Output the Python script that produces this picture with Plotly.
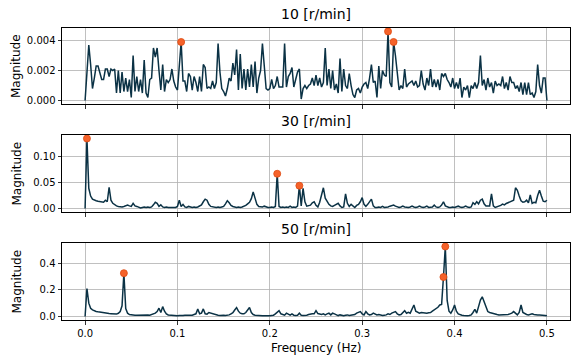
import numpy as np
import plotly.graph_objects as go

# ---------------- data ----------------
titles = ["10 [r/min]", "30 [r/min]", "50 [r/min]"]

mag_10 = [
    0.0000, 0.0018, 0.0037, 0.0024, 0.0008, 0.0015, 0.0023, 0.0023, 0.0019, 0.0014,
    0.0014, 0.0021, 0.0021, 0.0016, 0.0021, 0.0020, 0.0021, 0.0005, 0.0020, 0.0005,
    0.0019, 0.0006, 0.0015, 0.0006, 0.0014, 0.0002, 0.0030, 0.0006, 0.0016, 0.0006,
    0.0014, 0.0005, 0.0027, 0.0005, 0.0002, 0.0014, 0.0015, 0.0035, 0.0029, 0.0035,
    0.0020, 0.0007, 0.0024, 0.0006, 0.0014, 0.0012, 0.0014, 0.0021, 0.0013, 0.0009,
    0.0007, 0.0025, 0.0039, 0.0013, 0.0013, 0.0006, 0.0018, 0.0016, 0.0007, 0.0016,
    0.0012, 0.0006, 0.0016, 0.0006, 0.0024, 0.0022, 0.0008, 0.0009, 0.0008, 0.0013,
    0.0008, 0.0012, 0.0038, 0.0019, 0.0008, 0.0006, 0.0003, 0.0008, 0.0015, 0.0013,
    0.0025, 0.0017, 0.0034, 0.0007, 0.0031, 0.0008, 0.0021, 0.0007, 0.0021, 0.0009,
    0.0024, 0.0009, 0.0026, 0.0005, 0.0015, 0.0020, 0.0038, 0.0023, 0.0008, 0.0007,
    0.0008, 0.0014, 0.0008, 0.0010, 0.0016, 0.0009, 0.0009, 0.0009, 0.0038, 0.0009,
    0.0016, 0.0018, 0.0022, 0.0009, 0.0014, 0.0019, 0.0021, 0.0001, 0.0008, 0.0010,
    0.0008, 0.0010, 0.0011, 0.0015, 0.0010, 0.0017, 0.0010, 0.0015, 0.0009, 0.0012,
    0.0035, 0.0010, 0.0021, 0.0008, 0.0020, 0.0007, 0.0011, 0.0005, 0.0028, 0.0006,
    0.0021, 0.0010, 0.0008, 0.0018, 0.0010, 0.0004, 0.0002, 0.0007, 0.0008, 0.0005,
    0.0009, 0.0011, 0.0012, 0.0008, 0.0015, 0.0024, 0.0012, 0.0013, 0.0002, 0.0023,
    0.0008, 0.0020, 0.0017, 0.0016, 0.0046, 0.0012, 0.0009, 0.0039, 0.0030, 0.0020,
    0.0007, 0.0010, 0.0008, 0.0021, 0.0009, 0.0011, 0.0012, 0.0013, 0.0010, 0.0013,
    0.0009, 0.0010, 0.0020, 0.0011, 0.0007, 0.0015, 0.0010, 0.0021, 0.0009, 0.0014,
    0.0009, 0.0014, 0.0007, 0.0018, 0.0016, 0.0018, 0.0014, 0.0012, 0.0009, 0.0015,
    0.0008, 0.0012, 0.0008, 0.0015, 0.0002, 0.0009, 0.0007, 0.0010, 0.0002, 0.0010,
    0.0008, 0.0012, 0.0008, 0.0012, 0.0030, 0.0010, 0.0014, 0.0007, 0.0015, 0.0009,
    0.0012, 0.0005, 0.0013, 0.0010, 0.0011, 0.0010, 0.0016, 0.0008, 0.0012, 0.0007,
    0.0016, 0.0012, 0.0012, 0.0008, 0.0010, 0.0006, 0.0012, 0.0004, 0.0012, 0.0004,
    0.0012, 0.0004, 0.0005, 0.0002, 0.0006, 0.0024, 0.0010, 0.0005, 0.0015, 0.0015,
    0.0000,
]

mag_30 = [
    0.000, 0.135, 0.039, 0.024, 0.018, 0.016, 0.015, 0.014, 0.013, 0.013,
    0.012, 0.016, 0.013, 0.041, 0.016, 0.010, 0.007, 0.005, 0.004, 0.003,
    0.003, 0.004, 0.005, 0.0065, 0.005, 0.004, 0.010, 0.005, 0.004, 0.002,
    0.001, 0.002, 0.003, 0.002, 0.003, 0.002, 0.003, 0.007, 0.012, 0.010,
    0.004, 0.007, 0.003, 0.002, 0.003, 0.002, 0.002, 0.003, 0.002, 0.002,
    0.004, 0.016, 0.004, 0.008, 0.003, 0.002, 0.004, 0.003, 0.002, 0.003,
    0.002, 0.003, 0.005, 0.007, 0.013, 0.018, 0.016, 0.008, 0.004, 0.003,
    0.002, 0.002, 0.003, 0.002, 0.003, 0.004, 0.009, 0.015, 0.011, 0.006,
    0.004, 0.003, 0.002, 0.003, 0.002, 0.003, 0.004, 0.006, 0.009, 0.012,
    0.019, 0.032, 0.020, 0.008, 0.004, 0.003, 0.003, 0.0045, 0.003, 0.002,
    0.002, 0.003, 0.002, 0.004, 0.067, 0.004, 0.002, 0.003, 0.002, 0.003,
    0.002, 0.0045, 0.002, 0.003, 0.002, 0.0045, 0.044, 0.005, 0.039, 0.013,
    0.0045, 0.005, 0.0065, 0.011, 0.013, 0.006, 0.003, 0.012, 0.026, 0.040,
    0.020, 0.013, 0.008, 0.005, 0.004, 0.006, 0.008, 0.010, 0.005, 0.002,
    0.003, 0.028, 0.010, 0.004, 0.008, 0.004, 0.002, 0.006, 0.008, 0.013,
    0.021, 0.008, 0.004, 0.008, 0.013, 0.018, 0.005, 0.002, 0.002, 0.003,
    0.002, 0.004, 0.002, 0.002, 0.003, 0.0045, 0.005, 0.0065, 0.0045, 0.003,
    0.002, 0.003, 0.0045, 0.003, 0.002, 0.002, 0.003, 0.0045, 0.003, 0.002,
    0.003, 0.0045, 0.003, 0.002, 0.003, 0.0045, 0.002, 0.002, 0.003, 0.0065,
    0.003, 0.002, 0.003, 0.0065, 0.013, 0.005, 0.003, 0.002, 0.002, 0.003,
    0.002, 0.003, 0.0045, 0.003, 0.002, 0.003, 0.0045, 0.003, 0.002, 0.003,
    0.011, 0.008, 0.013, 0.009, 0.016, 0.018, 0.009, 0.005, 0.0045, 0.005,
    0.028, 0.005, 0.002, 0.003, 0.0045, 0.006, 0.0084, 0.007, 0.0097, 0.011,
    0.013, 0.014, 0.016, 0.040, 0.035, 0.024, 0.015, 0.012, 0.013, 0.016,
    0.011, 0.026, 0.010, 0.012, 0.011, 0.025, 0.035, 0.024, 0.014, 0.013,
    0.016,
]

mag_50 = [
    0.000, 0.210, 0.100, 0.062, 0.050, 0.042, 0.038, 0.035, 0.032, 0.030,
    0.028, 0.025, 0.024, 0.022, 0.021, 0.020, 0.019, 0.018, 0.024, 0.037,
    0.080, 0.325, 0.060, 0.025, 0.015, 0.012, 0.010, 0.010, 0.009, 0.010,
    0.012, 0.010, 0.009, 0.010, 0.012, 0.010, 0.014, 0.020, 0.025, 0.037,
    0.062, 0.030, 0.074, 0.040, 0.020, 0.012, 0.010, 0.008, 0.006, 0.005,
    0.006, 0.007, 0.006, 0.008, 0.010, 0.009, 0.010, 0.012, 0.010, 0.015,
    0.020, 0.057, 0.020, 0.025, 0.057, 0.020, 0.018, 0.030, 0.025, 0.022,
    0.018, 0.012, 0.010, 0.008, 0.010, 0.009, 0.008, 0.010, 0.012, 0.020,
    0.028, 0.049, 0.067, 0.040, 0.025, 0.020, 0.020, 0.030, 0.052, 0.067,
    0.030, 0.015, 0.010, 0.008, 0.007, 0.006, 0.005, 0.006, 0.005, 0.007,
    0.006, 0.008, 0.010, 0.020, 0.030, 0.044, 0.020, 0.012, 0.010, 0.025,
    0.018, 0.010, 0.020, 0.010, 0.008, 0.010, 0.025, 0.010, 0.008, 0.007,
    0.010, 0.015, 0.020, 0.020, 0.020, 0.044, 0.022, 0.020, 0.015, 0.020,
    0.012, 0.020, 0.025, 0.012, 0.025, 0.020, 0.012, 0.007, 0.012, 0.010,
    0.005, 0.010, 0.012, 0.008, 0.010, 0.012, 0.015, 0.025, 0.030, 0.037,
    0.020, 0.012, 0.037, 0.020, 0.012, 0.015, 0.025, 0.020, 0.012, 0.015,
    0.012, 0.007, 0.010, 0.012, 0.020, 0.015, 0.025, 0.030, 0.037, 0.020,
    0.012, 0.015, 0.030, 0.044, 0.025, 0.032, 0.025, 0.054, 0.086, 0.040,
    0.030, 0.025, 0.030, 0.028, 0.025, 0.025, 0.028, 0.030, 0.040, 0.049,
    0.062, 0.069, 0.086, 0.090, 0.296, 0.525, 0.120, 0.040, 0.025, 0.049,
    0.086, 0.040, 0.020, 0.012, 0.010, 0.007, 0.005, 0.005, 0.007, 0.012,
    0.030, 0.054, 0.025, 0.074, 0.123, 0.148, 0.110, 0.062, 0.037, 0.030,
    0.025, 0.022, 0.020, 0.015, 0.012, 0.012, 0.012, 0.012, 0.012, 0.015,
    0.020, 0.025, 0.037, 0.020, 0.012, 0.030, 0.086, 0.030, 0.020, 0.015,
    0.012, 0.015, 0.020, 0.015, 0.012, 0.012, 0.012, 0.012, 0.010, 0.007,
    0.005,
]

# indices of the highlighted peaks
peaks_10 = [52, 164, 167]
peaks_30 = [1, 104, 116]
peaks_50 = [21, 194, 195]

x_ticks = [0.0, 0.1, 0.2, 0.3, 0.4, 0.5]
y_ticks = [[0.000, 0.002, 0.004], [0.00, 0.05, 0.10], [0.0, 0.2, 0.4]]
y_fmt = [".3f", ".2f", ".1f"]

n_bins = 251
for arr in (mag_10, mag_30, mag_50):
    assert len(arr) == n_bins, len(arr)
freq = np.linspace(0.0, 0.5, n_bins)

series = [mag_10, mag_30, mag_50]
peaks = [peaks_10, peaks_30, peaks_50]

# ---------------- figure ----------------
FONT = "DejaVu Sans"
LINE_COLOR = "#0b3245"
W, H = 581, 363
ML, MR, MT, MB = 62, 11, 28, 43
plot_h = H - MT - MB
# pixel rows of each panel (top, bottom) in the figure
panel_px = [(28, 104), (135, 212), (243, 320)]
domains = [[(H - MB - b) / plot_h, (H - MB - t) / plot_h] for t, b in panel_px]

fig = go.Figure()
for i, (y, pk) in enumerate(zip(series, peaks)):
    ax = "" if i == 0 else str(i + 1)
    y = np.asarray(y)
    fig.add_trace(go.Scatter(
        x=freq, y=y, mode="lines", xaxis="x" + ax, yaxis="y" + ax,
        line=dict(color=LINE_COLOR, width=1.5), showlegend=False, hoverinfo="skip"))
    fig.add_trace(go.Scatter(
        x=freq[pk], y=y[pk], mode="markers", xaxis="x" + ax, yaxis="y" + ax,
        marker=dict(color="#f5622a", size=7, line=dict(color="#dd4a12", width=0.8)),
        showlegend=False, hoverinfo="skip"))

layout = dict(
    width=W, height=H,
    margin=dict(l=ML, r=MR, t=MT, b=MB, pad=0, autoexpand=False),
    paper_bgcolor="white", plot_bgcolor="white",
    font=dict(family=FONT, size=10, color="black"),
    annotations=[],
)

for i in range(3):
    ax = "" if i == 0 else str(i + 1)
    ymax = max(series[i])
    pad = 0.05 * ymax
    common = dict(showline=True, linecolor="black", linewidth=1, mirror=True,
                  ticks="outside", ticklen=3.5, tickwidth=0.8, tickcolor="black",
                  showgrid=True, gridcolor="#b0b0b0", gridwidth=0.8, zeroline=False,
                  automargin=False,
                  tickfont=dict(family=FONT, size=10, color="black"))
    layout["xaxis" + ax] = dict(
        common, anchor="y" + ax, domain=[0, 1], range=[-0.025, 0.525],
        tickvals=x_ticks, tickformat=".1f", showticklabels=(i == 2),
        **({} if i == 0 else {"matches": "x"}))
    layout["yaxis" + ax] = dict(
        common, anchor="x" + ax, domain=domains[i], range=[-pad, ymax + pad],
        tickvals=y_ticks[i], tickformat=y_fmt[i])
    layout["annotations"].append(dict(
        text=titles[i], xref="paper", yref="paper", x=0.5, y=domains[i][1],
        xanchor="center", yanchor="bottom", yshift=4, showarrow=False,
        font=dict(family=FONT, size=14, color="black")))
    layout["annotations"].append(dict(
        text="Magnitude", xref="paper", yref="paper", x=0,
        y=(domains[i][0] + domains[i][1]) / 2, xshift=-46,
        xanchor="center", yanchor="middle", textangle=-90, showarrow=False,
        font=dict(family=FONT, size=12, color="black")))

layout["annotations"].append(dict(
    text="Frequency (Hz)", xref="paper", yref="paper", x=0.5, y=0, yshift=-28,
    xanchor="center", yanchor="middle", showarrow=False,
    font=dict(family=FONT, size=12, color="black")))

fig.update_layout(**layout)
fig.write_html("out.html",
               config={"displayModeBar": False, "staticPlot": True},
               post_script="document.body.style.margin='0px';")
